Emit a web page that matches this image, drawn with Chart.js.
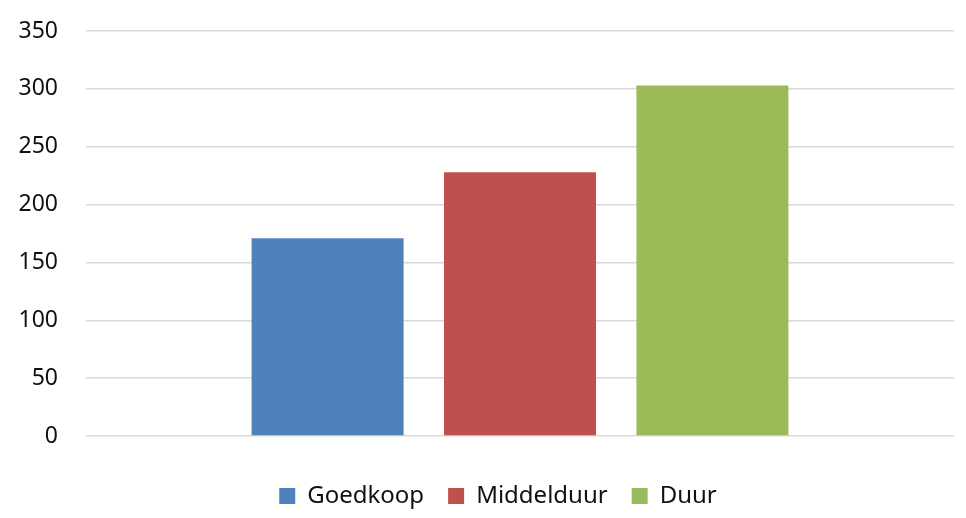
<!DOCTYPE html>
<html lang="nl">
<head>
    <meta charset="UTF-8">
    <title>Goedkoop / Middelduur / Duur</title>
    <script src="https://cdn.jsdelivr.net/npm/chart.js@4"></script>
    <style>
        html, body {
            margin: 0;
            padding: 0;
            background: #ffffff;
        }
        #chartContainer {
            width: 966px;
            height: 518px;
        }
    </style>
</head>
<body>
    <div id="chartContainer">
        <canvas id="priceChart"></canvas>
    </div>

    <script>
        // Data
        const categories = [''];
        const seriesNames = ['Goedkoop', 'Middelduur', 'Duur'];
        const seriesValues = [[171], [228], [303]];
        const seriesColors = ['#4F81BD', '#C0504D', '#9BBB59'];
        const yTicks = [0, 50, 100, 150, 200, 250, 300, 350];

        const datasets = seriesNames.map(function(name, i) {
            return {
                label: name,
                data: seriesValues[i],
                backgroundColor: seriesColors[i],
                borderWidth: 0,
                categoryPercentage: 0.665,
                barPercentage: 0.79
            };
        });

        // nudge the legend a bit to the right, like in the original
        const legendShift = {
            id: 'legendShift',
            afterLayout: function(chart) {
                if (chart.legend) {
                    chart.legend.left += 26;
                }
            }
        };

        const ctx = document.getElementById('priceChart').getContext('2d');
        new Chart(ctx, {
            type: 'bar',
            data: {
                labels: categories,
                datasets: datasets
            },
            plugins: [legendShift],
            options: {
                responsive: true,
                maintainAspectRatio: false,
                animation: false,
                layout: {
                    padding: { left: 16, right: 12, top: 31, bottom: 0 }
                },
                plugins: {
                    legend: {
                        display: true,
                        position: 'bottom',
                        labels: {
                            boxWidth: 16,
                            boxHeight: 16,
                            padding: 24,
                            color: '#111',
                            font: { family: 'Noto Sans', size: 24 }
                        }
                    },
                    tooltip: { enabled: false }
                },
                scales: {
                    x: {
                        ticks: { display: false },
                        grid: { display: false },
                        border: { display: false },
                        afterFit: function(scale) {
                            scale.height = 24;
                        }
                    },
                    y: {
                        min: 0,
                        max: 350,
                        afterBuildTicks: function(scale) {
                            scale.ticks = yTicks.map(function(v) { return { value: v }; });
                        },
                        afterFit: function(scale) {
                            scale.width = 70;
                        },
                        ticks: {
                            padding: 0,
                            color: '#111',
                            font: { family: 'Noto Sans', size: 23 }
                        },
                        grid: {
                            color: '#d9d9d9',
                            lineWidth: 1.5,
                            drawTicks: true,
                            tickLength: 28,
                            tickColor: 'rgba(0,0,0,0)'
                        },
                        border: { display: false }
                    }
                }
            }
        });
    </script>
</body>
</html>
